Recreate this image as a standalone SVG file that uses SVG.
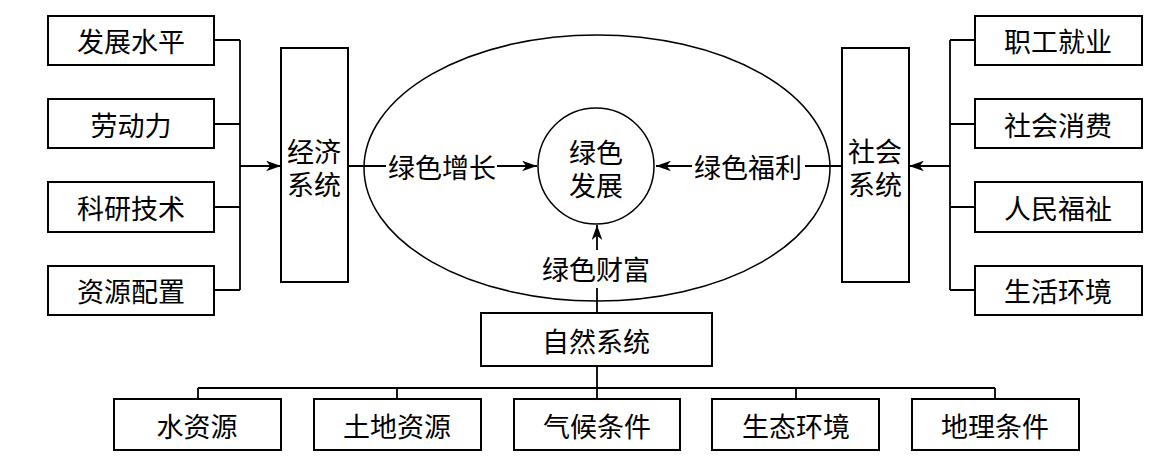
<svg xmlns="http://www.w3.org/2000/svg" width="1173" height="469" viewBox="0 0 1173 469">
<defs>
<style>
.box{fill:#fff;stroke:#000;stroke-width:2}
.ln{fill:none;stroke:#000;stroke-width:1.8}
.t{font-family:"Noto Sans CJK SC","Noto Sans",sans-serif;font-size:27px;fill:#000;text-anchor:middle;dominant-baseline:central}
</style>
<marker id="ah" viewBox="0 0 14 10" refX="14" refY="5" markerWidth="15" markerHeight="11" markerUnits="userSpaceOnUse" orient="auto">
<path d="M0,0 L14,5 L0,10 L4,5 Z" fill="#000"/>
</marker>
</defs>
<rect width="1173" height="469" fill="#fff"/>

<g id="connectors">
<path class="ln" d="M214,40 H240 M214,124 H240 M214,207 H240 M214,290 H240 M240,40 V290"/>
<path class="ln" d="M240,166 H281" marker-end="url(#ah)"/>
<path class="ln" d="M975,40 H950 M975,124 H950 M975,207 H950 M975,290 H950 M950,40 V290"/>
<path class="ln" d="M950,166 H909" marker-end="url(#ah)"/>
<path class="ln" d="M348,166 H386"/>
<path class="ln" d="M497,166 H537" marker-end="url(#ah)"/>
<path class="ln" d="M805,166 H842"/>
<path class="ln" d="M692,166 H656" marker-end="url(#ah)"/>
<path class="ln" d="M597,250 V225" marker-end="url(#ah)"/>
<path class="ln" d="M597,288 V313"/>
<path class="ln" d="M597,366 V388 M198,388 H995 M198,388 V399 M397,388 V399 M597,388 V399 M796,388 V399 M995,388 V399"/>
</g>

<g id="ellipse"><ellipse cx="597" cy="168" rx="233" ry="133" fill="none" stroke="#000" stroke-width="1.5"/></g>
<g id="center"><circle cx="596" cy="166" r="58" fill="#fff" stroke="#000" stroke-width="1.5"/>
<text class="t"><tspan x="596" y="151">绿色</tspan><tspan x="596" y="184">发展</tspan></text></g>

<g id="lbl-growth"><text class="t" x="442" y="166">绿色增长</text></g>
<g id="lbl-welfare"><text class="t" x="748" y="166">绿色福利</text></g>
<g id="lbl-wealth"><text class="t" x="596" y="268">绿色财富</text></g>

<g id="econ"><rect class="box" x="281" y="48" width="67" height="234"/>
<text class="t"><tspan x="314" y="150">经济</tspan><tspan x="314" y="183">系统</tspan></text></g>
<g id="social"><rect class="box" x="842" y="48" width="67" height="234"/>
<text class="t"><tspan x="875" y="150">社会</tspan><tspan x="875" y="183">系统</tspan></text></g>

<g id="l1"><rect class="box" x="48" y="16" width="166" height="49"/><text class="t" x="131" y="40">发展水平</text></g>
<g id="l2"><rect class="box" x="48" y="99" width="166" height="49"/><text class="t" x="131" y="124">劳动力</text></g>
<g id="l3"><rect class="box" x="48" y="182" width="166" height="50"/><text class="t" x="131" y="207">科研技术</text></g>
<g id="l4"><rect class="box" x="48" y="266" width="166" height="49"/><text class="t" x="131" y="290">资源配置</text></g>

<g id="r1"><rect class="box" x="975" y="16" width="167" height="49"/><text class="t" x="1058" y="40">职工就业</text></g>
<g id="r2"><rect class="box" x="975" y="99" width="167" height="49"/><text class="t" x="1058" y="124">社会消费</text></g>
<g id="r3"><rect class="box" x="975" y="182" width="167" height="50"/><text class="t" x="1058" y="207">人民福祉</text></g>
<g id="r4"><rect class="box" x="975" y="266" width="167" height="49"/><text class="t" x="1058" y="290">生活环境</text></g>

<g id="nature"><rect class="box" x="481" y="313" width="231" height="53"/><text class="t" x="596" y="340">自然系统</text></g>

<g id="b1"><rect class="box" x="114" y="399" width="167" height="51"/><text class="t" x="197" y="425">水资源</text></g>
<g id="b2"><rect class="box" x="314" y="399" width="167" height="51"/><text class="t" x="397" y="425">土地资源</text></g>
<g id="b3"><rect class="box" x="514" y="399" width="166" height="51"/><text class="t" x="597" y="425">气候条件</text></g>
<g id="b4"><rect class="box" x="712" y="399" width="167" height="51"/><text class="t" x="796" y="425">生态环境</text></g>
<g id="b5"><rect class="box" x="912" y="399" width="167" height="51"/><text class="t" x="995" y="425">地理条件</text></g>
</svg>
